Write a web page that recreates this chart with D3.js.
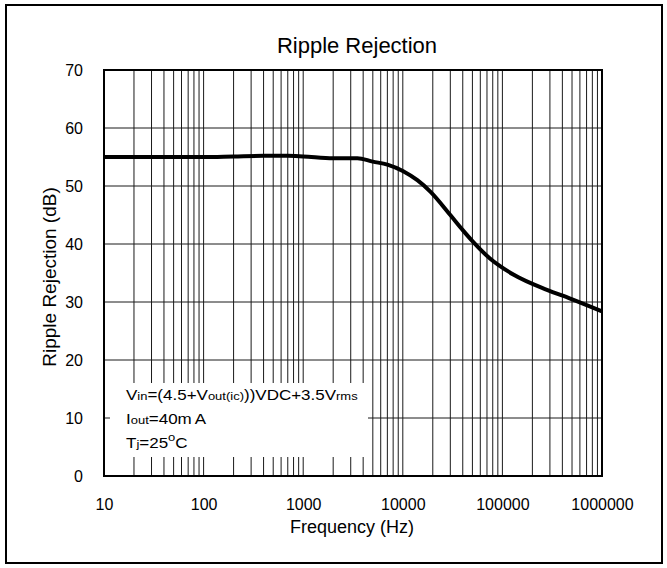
<!DOCTYPE html>
<html>
<head>
<meta charset="utf-8">
<script src="https://cdn.jsdelivr.net/npm/d3@7"></script>
<style>
  html, body { margin: 0; padding: 0; background: #fff; }
  svg { display: block; font-family: "Liberation Sans", Arial, sans-serif; }
</style>
</head>
<body>
<svg id="chart" width="667" height="568"></svg>
<script>
// ---- data ----
const freqHz = [10, 100, 200, 400, 700, 1000, 2000, 3500, 5000, 7000, 10000, 14000, 19000, 30000, 40000, 50000, 75000, 130000, 280000, 480000, 1000000];
const rippleDb = [55.0, 55.0, 55.1, 55.2, 55.2, 55.1, 54.8, 54.8, 54.2, 53.7, 52.6, 51.0, 49.0, 45.0, 42.4, 40.5, 37.5, 34.7, 32.1, 30.6, 28.4];
const xTickValues = [10, 100, 1000, 10000, 100000, 1000000];
const xTickLabels = ["10", "100", "1000", "10000", "100000", "1000000"];
const yTickValues = [0, 10, 20, 30, 40, 50, 60, 70];
const titleText = "Ripple Rejection";
const xTitle = "Frequency (Hz)";
const yTitle = "Ripple Rejection (dB)";

// ---- layout ----
const svg = d3.select("#chart");
const L = 104, R = 602, T = 70, B = 476;
const x = d3.scaleLog().domain([10, 1000000]).range([L, R]);
const y = d3.scaleLinear().domain([0, 70]).range([B, T]);

// outer frame
svg.append("rect").attr("x", 6).attr("y", 5).attr("width", 656).attr("height", 558)
  .attr("fill", "#fff").attr("stroke", "#000").attr("stroke-width", 2);

// title
svg.append("text").attr("x", 357).attr("y", 53).attr("text-anchor", "middle")
  .attr("font-size", 22).attr("fill", "#000").text(titleText);

// grid
const minor = [];
for (let d = 10; d < 1000000; d *= 10) for (let m = 1; m <= 9; m++) minor.push(d * m);
minor.push(1000000);
const grid = svg.append("g");
grid.selectAll("line.v").data(minor).enter().append("line")
  .attr("x1", d => x(d)).attr("x2", d => x(d)).attr("y1", T).attr("y2", B)
  .attr("stroke", "#1a1a1a").attr("stroke-width", 1);
grid.selectAll("line.h").data(yTickValues).enter().append("line")
  .attr("x1", L).attr("x2", R).attr("y1", d => y(d)).attr("y2", d => y(d))
  .attr("stroke", "#1a1a1a").attr("stroke-width", 1);

// annotation box (covers grid)
svg.append("rect").attr("x", 110).attr("y", 383).attr("width", 258).attr("height", 74).attr("fill", "#fff");

// axes via d3 axis
const xAxis = d3.axisBottom(x).tickValues(xTickValues).tickFormat((d, i) => xTickLabels[i]).tickSize(0).tickPadding(23);
const gx = svg.append("g").attr("transform", `translate(0,${B})`).call(xAxis);
gx.select(".domain").remove();
gx.selectAll("text").attr("font-size", 16).attr("fill", "#000").attr("font-family", "Liberation Sans, Arial, sans-serif");

const yAxis = d3.axisLeft(y).tickValues(yTickValues).tickFormat(d3.format("d")).tickSize(0).tickPadding(21);
const gy = svg.append("g").attr("transform", `translate(${L},0)`).call(yAxis);
gy.select(".domain").remove();
gy.selectAll("text").attr("font-size", 16).attr("fill", "#000").attr("font-family", "Liberation Sans, Arial, sans-serif");

// plot frame
svg.append("rect").attr("x", L).attr("y", T).attr("width", R - L).attr("height", B - T)
  .attr("fill", "none").attr("stroke", "#000").attr("stroke-width", 2);

// curve
const pts = freqHz.map((f, i) => [f, rippleDb[i]]);
const line = d3.line().x(d => x(d[0])).y(d => y(d[1])).curve(d3.curveMonotoneX);
svg.append("path").datum(pts).attr("d", line).attr("fill", "none")
  .attr("stroke", "#000").attr("stroke-width", 4).attr("stroke-linejoin", "round");

// axis titles
svg.append("text").attr("x", 352).attr("y", 533).attr("text-anchor", "middle")
  .attr("font-size", 18).attr("fill", "#000").text(xTitle);
svg.append("text").attr("transform", "translate(56,277) rotate(-90)").attr("text-anchor", "middle")
  .attr("font-size", 19).attr("fill", "#000").text(yTitle);

// annotation text
const BIG = 17, SMALL = 13;
function annot(yb, parts) {
  const t = svg.append("text").attr("transform", `translate(126,${yb}) scale(1,0.9)`).attr("fill", "#000");
  parts.forEach(p => {
    const ts = t.append("tspan").attr("font-size", p[1] ? SMALL : BIG).text(p[0]);
    if (p[2]) ts.attr("dy", p[2]);
    if (p[3]) ts.attr("dx", p[3]);
  });
}
annot(400, [["V"], ["in", 1], ["=(4.5+V"], ["out(ic)", 1], ["))VDC+3.5V"], ["rms", 1]]);
annot(424, [["I"], ["out", 1], ["=40m"], ["A", 0, 0, 3]]);
annot(448, [["T"], ["j", 1], ["=25"], ["o", 1, -8], ["C", 0, 8]]);
</script>
</body>
</html>
